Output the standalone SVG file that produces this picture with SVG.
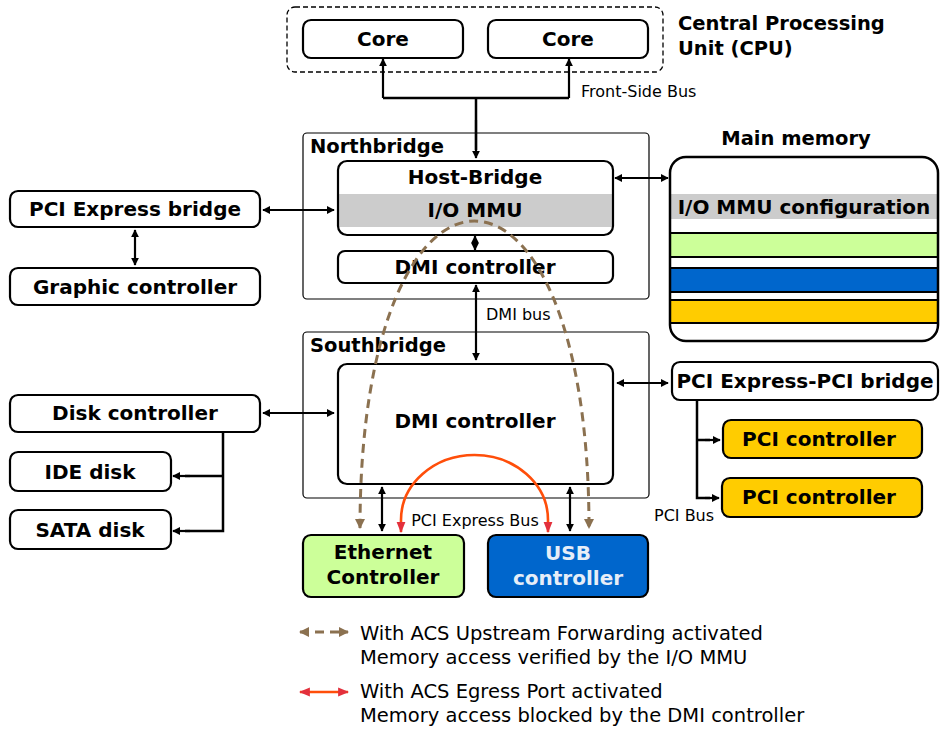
<svg xmlns="http://www.w3.org/2000/svg" width="940" height="731" viewBox="0 0 940 731">
<style>
  .box { fill: #fff; stroke: #000; stroke-width: 2.2; }
  .frame { fill: #fff; stroke: #000; stroke-width: 1.2; }
  .lbl { font-family: "DejaVu Sans", sans-serif; font-weight: bold; font-size: 20px; fill: #000; text-anchor: middle; }
  .title { font-family: "DejaVu Sans", sans-serif; font-weight: bold; font-size: 19.5px; fill: #000; }
  .small { font-family: "DejaVu Sans", sans-serif; font-size: 16px; fill: #000; }
  .legend { font-family: "DejaVu Sans", sans-serif; font-size: 19.5px; fill: #000; }
  .wire { fill: none; stroke: #000; stroke-width: 2.5; }
  .arr { fill: none; stroke: #000; stroke-width: 2.2; marker-end: url(#ah); }
  .arr2 { fill: none; stroke: #000; stroke-width: 2.2; marker-start: url(#ah); marker-end: url(#ah); }
  .band { stroke: #000; stroke-width: 2; }
</style>
<defs>
  <marker id="ah" viewBox="0 0 10 10" refX="9" refY="5" markerWidth="8" markerHeight="8" markerUnits="userSpaceOnUse" orient="auto-start-reverse">
    <path d="M0,0 L10,5 L0,10 z" fill="#000"/>
  </marker>
  <marker id="ahBrown" viewBox="0 0 10 10" refX="9" refY="5" markerWidth="10" markerHeight="10" markerUnits="userSpaceOnUse" orient="auto-start-reverse">
    <path d="M0,0 L10,5 L0,10 z" fill="#8b7150"/>
  </marker>
  <marker id="ahRed" viewBox="0 0 10 10" refX="9" refY="5" markerWidth="11" markerHeight="11" markerUnits="userSpaceOnUse" orient="auto-start-reverse">
    <path d="M0,1 L10,5 L0,9 z" fill="#e3303c"/>
  </marker>
  <clipPath id="memClip">
    <rect x="670" y="157" width="268" height="184" rx="16"/>
  </clipPath>
</defs>

<!-- CPU package -->
<g id="cpu">
  <rect x="287" y="7" width="376" height="65" rx="8" fill="none" stroke="#000" stroke-width="1.3" stroke-dasharray="5,3"/>
  <text class="title" x="678" y="30">Central Processing</text>
  <text class="title" x="678" y="55">Unit (CPU)</text>
</g>
<g id="core1">
  <rect class="box" x="303" y="20" width="160" height="38" rx="8"/>
  <text class="lbl" x="383" y="46">Core</text>
</g>
<g id="core2">
  <rect class="box" x="488" y="20" width="160" height="38" rx="8"/>
  <text class="lbl" x="568" y="46">Core</text>
</g>

<!-- Northbridge -->
<g id="northbridge">
  <rect class="frame" x="303" y="133" width="346" height="166" rx="4"/>
  <text class="title" x="310" y="153">Northbridge</text>
</g>
<g id="host-bridge">
  <rect x="338" y="161" width="275" height="74" rx="9" fill="#fff"/>
  <rect x="338" y="194" width="275" height="33" fill="#cccccc"/>
  <rect x="338" y="161" width="275" height="74" rx="9" fill="none" stroke="#000" stroke-width="2.2"/>
  <text class="lbl" x="475" y="184">Host-Bridge</text>
  <text class="lbl" x="475" y="217">I/O MMU</text>
</g>
<g id="dmi-north">
  <rect class="box" x="338" y="251" width="275" height="32" rx="7"/>
  <text class="lbl" x="475" y="274">DMI controller</text>
</g>

<!-- Southbridge -->
<g id="southbridge">
  <rect class="frame" x="303" y="332" width="346" height="166" rx="4"/>
  <text class="title" x="310" y="352">Southbridge</text>
</g>
<g id="dmi-south">
  <rect class="box" x="338" y="364" width="275" height="120" rx="9"/>
  <text class="lbl" x="475" y="428">DMI controller</text>
</g>

<!-- Main memory -->
<g id="main-memory">
  <text class="title" x="796" y="145" text-anchor="middle">Main memory</text>
  <rect x="670" y="157" width="268" height="184" rx="16" fill="#fff"/>
  <g clip-path="url(#memClip)">
    <rect x="660" y="194" width="290" height="25" fill="#cccccc"/>
    <rect class="band" x="660" y="233" width="290" height="24" fill="#ccff99"/>
    <rect class="band" x="660" y="268" width="290" height="24" fill="#0066cc"/>
    <rect class="band" x="660" y="300" width="290" height="23" fill="#ffcc00"/>
  </g>
  <rect x="670" y="157" width="268" height="184" rx="16" fill="none" stroke="#000" stroke-width="2.5"/>
  <text class="lbl" x="804" y="214">I/O MMU configuration</text>
</g>

<!-- Left-side devices -->
<g id="pcie-bridge">
  <rect class="box" x="10" y="191" width="250" height="36" rx="8"/>
  <text class="lbl" x="135" y="216">PCI Express bridge</text>
</g>
<g id="graphic-controller">
  <rect class="box" x="10" y="268" width="250" height="37" rx="8"/>
  <text class="lbl" x="135" y="294">Graphic controller</text>
</g>
<g id="disk-controller">
  <rect class="box" x="10" y="395" width="250" height="37" rx="8"/>
  <text class="lbl" x="135" y="420">Disk controller</text>
</g>
<g id="ide-disk">
  <rect class="box" x="10" y="452" width="161" height="39" rx="8"/>
  <text class="lbl" x="90" y="479">IDE disk</text>
</g>
<g id="sata-disk">
  <rect class="box" x="10" y="510" width="161" height="39" rx="8"/>
  <text class="lbl" x="90" y="537">SATA disk</text>
</g>

<!-- Right-side PCI devices -->
<g id="pcie-pci-bridge">
  <rect class="box" x="672" y="362" width="266" height="38" rx="8"/>
  <text class="lbl" x="805" y="388">PCI Express-PCI bridge</text>
</g>
<g id="pci-controller-1">
  <rect x="723" y="420" width="199" height="38" rx="8" fill="#ffcc00" stroke="#000" stroke-width="2.2"/>
  <text class="lbl" x="819" y="446">PCI controller</text>
</g>
<g id="pci-controller-2">
  <rect x="722" y="478" width="200" height="39" rx="8" fill="#ffcc00" stroke="#000" stroke-width="2.2"/>
  <text class="lbl" x="819" y="504">PCI controller</text>
</g>

<!-- Endpoints on the PCI Express bus -->
<g id="ethernet-controller">
  <rect x="303" y="535" width="161" height="62" rx="8" fill="#ccff99" stroke="#000" stroke-width="2.2"/>
  <text class="lbl" x="383" y="559">Ethernet</text>
  <text class="lbl" x="383" y="584">Controller</text>
</g>
<g id="usb-controller">
  <rect x="488" y="535" width="160" height="62" rx="8" fill="#0066cc" stroke="#000" stroke-width="2.2"/>
  <text class="lbl" x="568" y="560" style="fill:#e6eef8">USB</text>
  <text class="lbl" x="568" y="585" style="fill:#e6eef8">controller</text>
</g>

<!-- Connectors -->
<g id="connectors">
  <!-- front-side bus -->
  <path class="wire" d="M383,98 H569 M476,98 V150"/>
  <path class="arr" d="M383,98 V59"/>
  <path class="arr" d="M569,98 V59"/>
  <path class="arr" d="M476,120 V158"/>
  <text class="small" x="581" y="97">Front-Side Bus</text>

  <!-- northbridge internals -->
  <path class="arr2" d="M475,236 V250"/>
  <path class="arr2" d="M615,178 H668"/>
  <path class="arr2" d="M263,210 H334"/>
  <path class="arr2" d="M135,230 V265"/>

  <!-- DMI bus -->
  <path class="arr2" d="M476,285 V360"/>
  <text class="small" x="486" y="320">DMI bus</text>

  <!-- southbridge links -->
  <path class="arr2" d="M263,413 H334"/>
  <path class="arr2" d="M617,383 H668"/>
  <path class="arr2" d="M382,487 V531"/>
  <path class="arr2" d="M570,487 V531"/>
  <text class="small" x="475" y="526" text-anchor="middle">PCI Express Bus</text>

  <!-- disk tree -->
  <path class="wire" d="M223,432 V531 H185 M223,476 H185"/>
  <path class="arr" d="M190,476 H173"/>
  <path class="arr" d="M190,531 H173"/>

  <!-- PCI bus tree -->
  <path class="wire" d="M697,400 V498 H710 M697,440 H710"/>
  <path class="arr" d="M705,440 H720"/>
  <path class="arr" d="M705,498 H719"/>
  <text class="small" x="654" y="521">PCI Bus</text>

  <!-- ACS paths -->
  <path d="M360,528 C360,118.7 589,118.7 589,528" fill="none" stroke="#8b7150" stroke-width="3" stroke-dasharray="9,6" marker-start="url(#ahBrown)" marker-end="url(#ahBrown)"/>
  <path d="M401,532 V520 A73.5,65 0 0 1 548,520 V532" fill="none" stroke="#ff4e0a" stroke-width="2.6" marker-start="url(#ahRed)" marker-end="url(#ahRed)"/>
</g>

<!-- Legend -->
<g id="legend">
  <path d="M300,632 H348" fill="none" stroke="#8b7150" stroke-width="3" stroke-dasharray="9,6" marker-start="url(#ahBrown)" marker-end="url(#ahBrown)"/>
  <text class="legend" x="360" y="640">With ACS Upstream Forwarding activated</text>
  <text class="legend" x="360" y="664">Memory access verified by the I/O MMU</text>
  <path d="M300,692 H348" fill="none" stroke="#ff4e0a" stroke-width="2.6" marker-start="url(#ahRed)" marker-end="url(#ahRed)"/>
  <text class="legend" x="360" y="698">With ACS Egress Port activated</text>
  <text class="legend" x="360" y="722">Memory access blocked by the DMI controller</text>
</g>
</svg>
